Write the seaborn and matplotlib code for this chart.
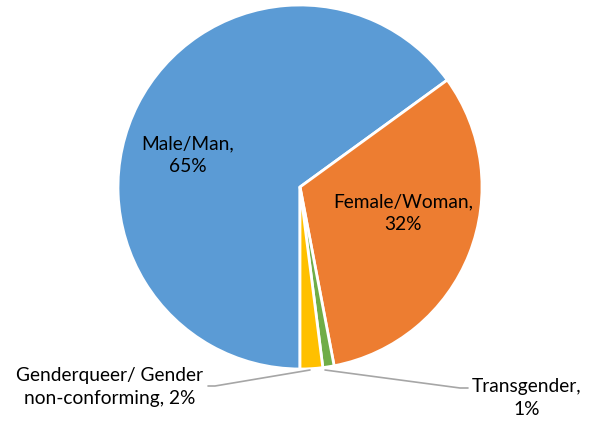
import numpy as np
import seaborn as sns
import matplotlib.pyplot as plt

# data
categories = ["Male/Man", "Female/Woman", "Transgender", "Genderqueer/ Gender\nnon-conforming"]
shares = [65, 32, 1, 2]
colors = ["#5B9BD5", "#ED7D31", "#70AD47", "#FFC000"]

sns.set_style("white")
plt.rcParams['font.family'] = ['Lato', 'DejaVu Sans']

fig = plt.figure(figsize=(6.04, 4.24), dpi=100)
ax = fig.add_axes([0, 0, 1, 1])
H = 424
cx, cy, r = 300, H - 187, 182

wedges, _ = ax.pie(shares, colors=colors, startangle=270, counterclock=False,
                   center=(cx, cy), radius=r, explode=[0, 0.02, 0.02, 0.02],
                   wedgeprops=dict(edgecolor="white", linewidth=2))
ax.set_xlim(0, 604)
ax.set_ylim(0, H)
ax.set_aspect("equal")
ax.axis("off")

fs = 13.8
def lab(i):
    return f"{categories[i]}, {shares[i]}%" if i == 3 else f"{categories[i]},\n{shares[i]}%"

kw = dict(ha="center", va="center", fontsize=fs, linespacing=1.38, color="black")
ax.text(188, H - 155, lab(0), **kw)
ax.text(403, H - 213, lab(1), **kw)
ax.text(527, H - 398, lab(2), **kw)
ax.text(110, H - 387, lab(3), **kw)

# leader lines
ax.plot([310, 215, 208], [H - 370, H - 386, H - 386], color="#A6A6A6", lw=1.2)
ax.plot([325, 460, 468], [H - 370, H - 388, H - 388], color="#A6A6A6", lw=1.2)

fig.savefig("out.png", dpi=100)
